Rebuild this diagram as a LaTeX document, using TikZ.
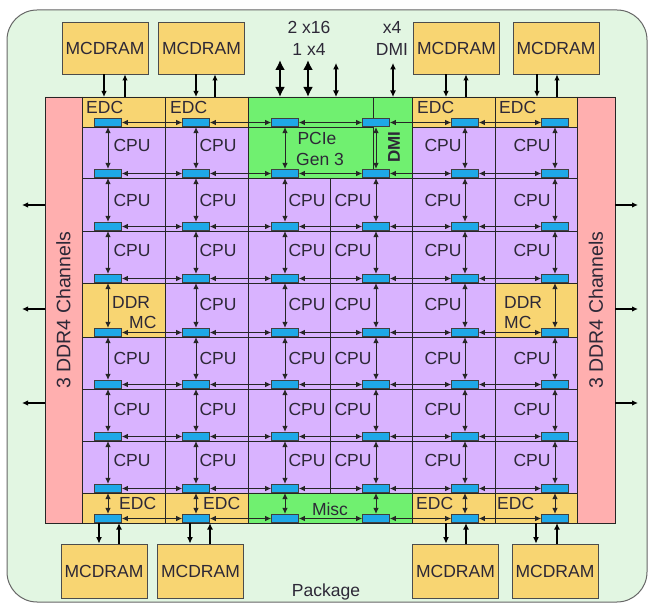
\documentclass[tikz,border=0pt]{standalone}
\usepackage{fontspec}
\setmainfont{Liberation Sans}
\usetikzlibrary{arrows.meta,calc}
\definecolor{pkgcol}{RGB}{226,246,226}
\definecolor{ddrcol}{RGB}{255,175,175}
\definecolor{cpucol}{RGB}{217,179,255}
\definecolor{edccol}{RGB}{248,213,114}
\definecolor{iocol}{RGB}{112,240,112}
\definecolor{stopcol}{RGB}{30,168,232}
\definecolor{txtcol}{RGB}{45,40,55}
\begin{document}
\begin{tikzpicture}[x=1pt,y=-1pt,
  font=\fontsize{17.5}{20}\selectfont,
  lbl/.style={text=txtcol, inner sep=0pt},
  meshstop/.style={draw=black!75, fill=stopcol, minimum width=27pt, minimum height=8.5pt, inner sep=0pt, line width=0.6pt},
  mesh/.style={{Latex[length=6pt,width=5.5pt]}-{Latex[length=6pt,width=5.5pt]}, line width=1pt, black!85},
  tile/.style={black!85, line width=0.7pt},
  mcd/.style={draw=black!70, fill=edccol, line width=0.8pt, minimum width=86pt, minimum height=52pt, inner sep=0pt, text=txtcol},
  mlink/.style={-{Latex[length=6pt,width=5.5pt]}, line width=1.3pt},
  mlinkb/.style={-{Latex[length=6.5pt,width=6pt]}, line width=2pt},
  iothick/.style={{Latex[length=10pt,width=10pt]}-{Latex[length=10pt,width=10pt]}, line width=2.8pt},
  iothin/.style={{Latex[length=6.5pt,width=6pt]}-{Latex[length=6.5pt,width=6pt]}, line width=1.1pt},
  side/.style={-{Latex[length=6pt,width=5.5pt]}, line width=1.4pt},
]
\useasboundingbox (0,0) rectangle (649,604);
% package
\draw[fill=pkgcol, draw=black!60, line width=1pt, rounded corners=30pt] (7,10) rectangle (647,602);
% chip frame (for anchors)
\node[minimum width=570pt, minimum height=426pt, inner sep=0pt, outer sep=0pt, anchor=north west] (chip) at (45,97) {};
% fills
\fill[cpucol] (82,97) rectangle (577,523);
\fill[edccol] (82,97) rectangle (248,127) (412,97) rectangle (577,127);
\fill[edccol] (82,493) rectangle (248,523) (412,493) rectangle (577,523);
\fill[iocol] (248,97) rectangle (412,178) (248,493) rectangle (412,523);
\fill[edccol] (82,283) rectangle (165,337) (495,283) rectangle (577,337);
\fill[ddrcol] (45,97) rectangle (82,523) (577,97) rectangle (615,523);
% grid lines
\foreach \gx in {82,165,248,412,495,577} \draw[tile] (\gx,97) -- (\gx,523);
\draw[tile] (330,178) -- (330,493);
\draw[tile] (373,97) -- (373,178);
\draw[tile] (82,127) -- (373,127) (412,127) -- (577,127);
\foreach \gy in {178,231,283,337,389,441,493} \draw[tile] (82,\gy) -- (577,\gy);
\draw[black!85, line width=0.9pt] (chip.north west) rectangle (chip.south east);
% mesh stops
\foreach \c/\sx in {1/108,2/196,3/285,4/376,5/465,6/555}{
  \foreach \r/\sb in {0/127,1/178,2/231,3/283,4/337,5/389,6/441,7/493,8/523}{
    \node[meshstop] (s\c-\r) at (\sx,{\sb-4.5}) {};
  }
}
% mesh arrows
\foreach \c in {1,...,6}{
  \foreach \r [evaluate=\r as \p using int(\r-1)] in {1,...,8}{
    \draw[mesh] (s\c-\p) -- (s\c-\r);
  }
}
\foreach \r in {0,...,8}{
  \foreach \c [evaluate=\c as \p using int(\c-1)] in {2,...,6}{
    \draw[mesh] (s\p-\r) -- (s\c-\r);
  }
}
% MCDRAM boxes
\node[mcd] (m1) at (105,48) {MCDRAM};
\node[mcd] (m2) at (201.5,48) {MCDRAM};
\node[mcd] (m3) at (456.5,48) {MCDRAM};
\node[mcd] (m4) at (556,48) {MCDRAM};
\node[mcd, minimum height=54pt] (b1) at (104,571) {MCDRAM};
\node[mcd, minimum height=54pt] (b2) at (200.5,571) {MCDRAM};
\node[mcd, minimum height=54pt] (b3) at (455.5,571) {MCDRAM};
\node[mcd, minimum height=54pt] (b4) at (555,571) {MCDRAM};
% top MCDRAM links
\draw[mlink] (104,0 |- m1.south) -- (104,0 |- chip.north);
\draw[mlink] (125,0 |- chip.north) -- (125,0 |- m1.south);
\draw[mlink] (196,0 |- m2.south) -- (196,0 |- chip.north);
\draw[mlink] (215,0 |- chip.north) -- (215,0 |- m2.south);
\draw[mlink] (446,0 |- m3.south) -- (446,0 |- chip.north);
\draw[mlink] (466,0 |- chip.north) -- (466,0 |- m3.south);
\draw[mlink] (537,0 |- m4.south) -- (537,0 |- chip.north);
\draw[mlink] (557,0 |- chip.north) -- (557,0 |- m4.south);
% bottom MCDRAM links
\draw[mlinkb] (99,0 |- s1-8.south) -- (99,0 |- b1.north);
\draw[mlinkb] (119,0 |- b1.north) -- (119,0 |- s1-8.south);
\draw[mlinkb] (190,0 |- s2-8.south) -- (190,0 |- b2.north);
\draw[mlinkb] (210,0 |- b2.north) -- (210,0 |- s2-8.south);
\draw[mlinkb] (446,0 |- s5-8.south) -- (446,0 |- b3.north);
\draw[mlinkb] (466,0 |- b3.north) -- (466,0 |- s5-8.south);
\draw[mlinkb] (536,0 |- s6-8.south) -- (536,0 |- b4.north);
\draw[mlinkb] (557,0 |- b4.north) -- (557,0 |- s6-8.south);
% top IO arrows
\coordinate (io1) at (280,60);
\coordinate (io2) at (308,60);
\coordinate (io3) at (336,63);
\coordinate (io4) at (393,63);
\draw[iothick] (io1) -- (io1 |- chip.north);
\draw[iothick] (io2) -- (io2 |- chip.north);
\draw[iothin] (io3) -- (io3 |- chip.north);
\draw[iothin] (io4) -- (io4 |- chip.north);
% side arrows
\foreach \k/\ay in {1/205,2/309,3/403}{
  \coordinate (l\k) at (22,\ay);
  \coordinate (r\k) at (638,\ay);
  \draw[side] (l\k -| chip.west) -- (l\k);
  \draw[side] (r\k -| chip.east) -- (r\k);
}
% texts
\node[lbl] (t1) at (309,27) {2 x16};
\node[lbl] (t2) at (309,49) {1 x4};
\node[lbl] (t3) at (392,27) {x4};
\node[lbl] (t4) at (392,49) {DMI};
\node[lbl] (pkg) at (326,592) {Package};
\node[lbl, rotate=90, font=\fontsize{19.5}{22}\selectfont] (ddrl) at (63.5,310) {3 DDR4 Channels};
\node[lbl, rotate=90, font=\fontsize{19.5}{22}\selectfont] (ddrr) at (596,310) {3 DDR4 Channels};
\node[lbl, anchor=west] (e1) at (86,107) {EDC};
\node[lbl, anchor=west] (e2) at (170,107) {EDC};
\node[lbl, anchor=west] (e3) at (417,107) {EDC};
\node[lbl, anchor=west] (e4) at (499,107) {EDC};
\node[lbl, anchor=west] (e5) at (119,503) {EDC};
\node[lbl, anchor=west] (e6) at (203,503) {EDC};
\node[lbl, anchor=west] (e7) at (416,503) {EDC};
\node[lbl, anchor=west] (e8) at (497,503) {EDC};
\node[lbl] (misc) at (330,509) {Misc};
\node[lbl] (pcie1) at (317,138) {PCIe};
\node[lbl] (pcie2) at (320,159) {Gen 3};
\node[lbl, rotate=90, font=\fontsize{17}{20}\selectfont\bfseries] (dmi) at (394,147) {DMI};
\node[lbl, anchor=west] (d1) at (112,302) {DDR};
\node[lbl, anchor=west] (d2) at (129,322) {MC};
\node[lbl, anchor=west] (d3) at (504,302) {DDR};
\node[lbl, anchor=west] (d4) at (504,322) {MC};
\foreach \r/\ty in {1/145,2/200,3/250,4/304,5/358,6/409,7/460}{
  \foreach \c/\tx in {1/132,2/218,3/307,4/353,5/443,6/532}{
    \pgfmathtruncatemacro\hideit{(\r==1)*((\c==3)+(\c==4)) + (\r==4)*((\c==1)+(\c==6))}
    \ifnum\hideit=0
      \node[lbl] (cpu-\c-\r) at (\tx,\ty) {CPU};
    \fi
  }
}
\end{tikzpicture}
\end{document}
